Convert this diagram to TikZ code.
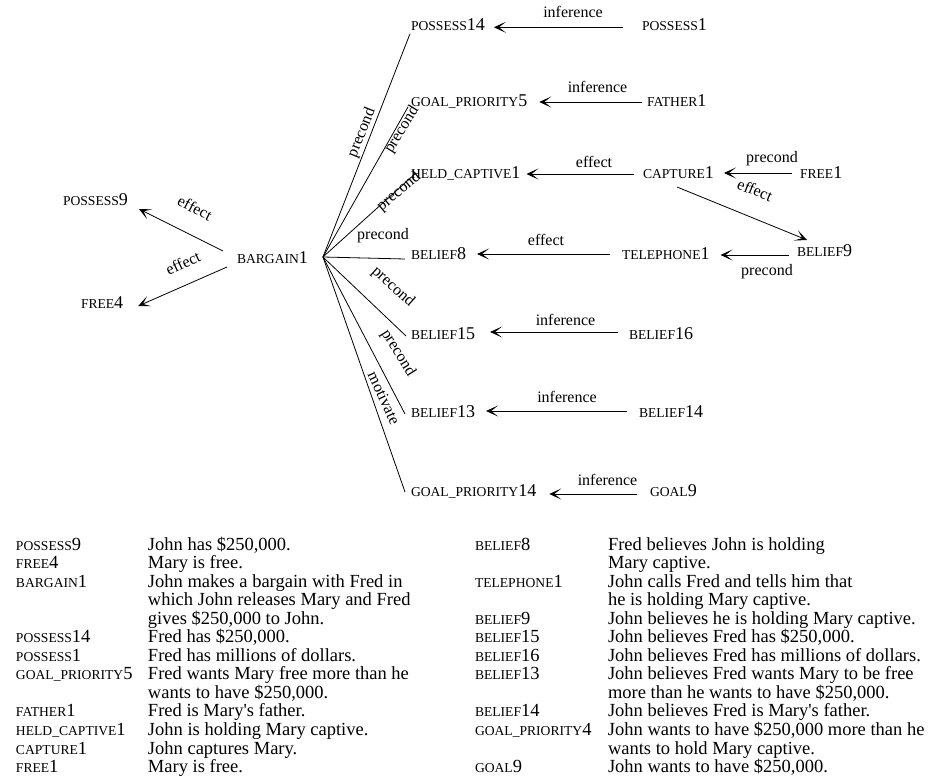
\documentclass[tikz,border=0pt]{standalone}
\usepackage{fontspec}
\setmainfont{Liberation Serif}
\usetikzlibrary{arrows.meta}
\newcommand\sck[1]{{\fontsize{13.6pt}{14pt}\selectfont #1}}
\newcommand\lrow[2]{\hbox{\makebox[132pt][l]{#1}#2}}
\newcommand\rrow[2]{\hbox{\makebox[133pt][l]{#1}#2}}
\begin{document}
\begin{tikzpicture}[x=1pt,y=-1pt,
 every node/.style={inner sep=0pt, outer sep=0pt},
 concept/.style={anchor=base west, font=\fontsize{18pt}{18pt}\selectfont},
 elabel/.style={anchor=base, font=\fontsize{16pt}{16pt}\selectfont},
 rlabel/.style={anchor=center, font=\fontsize{16pt}{16pt}\selectfont},
 link/.style={line width=0.8pt},
 arr/.style={line width=0.8pt, -{Stealth[length=12pt,width=11pt,inset=7pt]}},
 legend/.style={anchor=base west, font=\fontsize{18.5pt}{18.55pt}\selectfont}
]
\useasboundingbox (0,0) rectangle (929,778);

% concept nodes
\node[concept] (p14) at (411,30.7) {\sck{POSSESS}14};
\node[concept] (p1) at (642,30.7) {\sck{POSSESS}1};
\node[concept] (gp5) at (411,107) {\sck{GOAL\_PRIORITY}5};
\node[concept] (father) at (647,107) {\sck{FATHER}1};
\node[concept] (held) at (411,179) {\sck{HELD\_CAPTIVE}1};
\node[concept] (capture) at (643,179) {\sck{CAPTURE}1};
\node[concept] (free1) at (800,179) {\sck{FREE}1};
\node[concept] (b8) at (411,259) {\sck{BELIEF}8};
\node[concept] (tel) at (622,259) {\sck{TELEPHONE}1};
\node[concept] (b9) at (797,257) {\sck{BELIEF}9};
\node[concept] (bargain) at (237,263) {\sck{BARGAIN}1};
\node[concept] (p9) at (63,206) {\sck{POSSESS}9};
\node[concept] (free4) at (81,308) {\sck{FREE}4};
\node[concept] (b15) at (411,339) {\sck{BELIEF}15};
\node[concept] (b16) at (629,339) {\sck{BELIEF}16};
\node[concept] (b13) at (411,417) {\sck{BELIEF}13};
\node[concept] (b14) at (639,417) {\sck{BELIEF}14};
\node[concept] (gp14) at (411,496) {\sck{GOAL\_PRIORITY}14};
\node[concept] (goal9) at (650,496) {\sck{GOAL}9};

% fan from BARGAIN1
\coordinate (fan) at ([xshift=15pt,yshift=6pt]bargain.base east);
\draw[link] (fan) -- ([xshift=-1pt,yshift=-3pt]p14.base west);
\draw[link] (fan) -- ([xshift=-3pt]gp5.base west);
\draw[link] (fan) -- ([xshift=5pt,yshift=6pt]held.base west);
\draw[link] (fan) -- ([xshift=-6pt]b8.base west);
\draw[link] (fan) -- ([xshift=-5pt,yshift=3pt]b15.base west);
\draw[link] (fan) -- ([xshift=-6pt,yshift=3pt]b13.base west);
\draw[link] (fan) -- ([xshift=-6pt,yshift=4pt]gp14.base west);

% effects of BARGAIN1
\draw[arr] ([xshift=-14pt,yshift=12pt]bargain.base west) -- ([xshift=11pt,yshift=-3pt]p9.base east);
\draw[arr] ([xshift=-10pt,yshift=-4pt]bargain.base west) -- ([xshift=15pt,yshift=2pt]free4.base east);

% horizontal arrows
\draw[arr] ([xshift=-19pt,yshift=3.4pt]p1.base west) -- ([xshift=9pt,yshift=3.4pt]p14.base east);
\draw[arr] ([xshift=-5pt,yshift=5pt]father.base west) -- ([xshift=12pt,yshift=5pt]gp5.base east);
\draw[arr] ([xshift=-9pt,yshift=5pt]capture.base west) -- ([xshift=6pt,yshift=5pt]held.base east);
\draw[arr] ([xshift=-8pt,yshift=6pt]free1.base west) -- ([xshift=10pt,yshift=6pt]capture.base east);
\draw[arr] ([xshift=-12pt,yshift=5pt]tel.base west) -- ([xshift=11pt,yshift=5pt]b8.base east);
\draw[arr] ([xshift=-8pt,yshift=2pt]b9.base west) -- ([xshift=11pt,yshift=4pt]tel.base east);
\draw[arr] ([xshift=-11pt,yshift=7pt]b16.base west) -- ([xshift=15pt,yshift=7pt]b15.base east);
\draw[arr] ([xshift=-12pt,yshift=6pt]b14.base west) -- ([xshift=11pt,yshift=6pt]b13.base east);
\draw[arr] ([xshift=-13pt,yshift=2pt]goal9.base west) -- ([xshift=13pt,yshift=2pt]gp14.base east);
\draw[arr] ([xshift=34pt,yshift=-8pt]capture.base west) -- ([xshift=10pt,yshift=17pt]b9.base west);

% edge labels
\node[elabel] (l1) at (573,18) {inference};
\node[elabel] (l2) at (597.5,93) {inference};
\node[elabel] (l3) at (594,168) {effect};
\node[elabel] (l4) at (772,163) {precond};
\node[elabel] (l5) at (546,245) {effect};
\node[elabel] (l6) at (767,276) {precond};
\node[elabel] (l7) at (565.5,325) {inference};
\node[elabel] (l8) at (567,402) {inference};
\node[elabel] (l9) at (607.5,485) {inference};

\node[rlabel, rotate=-22] (r1) at (755,190) {effect};
\node[rlabel, rotate=-27] (r2) at (195,208) {effect};
\node[rlabel, rotate=25] (r3) at (183,263) {effect};
\node[rlabel, rotate=68] (r4) at (362,133) {precond};
\node[rlabel, rotate=58] (r5) at (402,130) {precond};
\node[rlabel, rotate=40] (r6) at (399,192) {precond};
\node[rlabel] (r7) at (383,236) {precond};
\node[rlabel, rotate=-42] (r8) at (393,287) {precond};
\node[rlabel, rotate=-58] (r9) at (398,353) {precond};
\node[rlabel, rotate=-65] (r10) at (384,398) {motivate};

% legend
\node[legend] (legL) at (16,550) {\vtop{%
\lrow{\sck{POSSESS}9}{John has \$250,000.}
\lrow{\sck{FREE}4}{Mary is free.}
\lrow{\sck{BARGAIN}1}{John makes a bargain with Fred in}
\lrow{}{which John releases Mary and Fred}
\lrow{}{gives \$250,000 to John.}
\lrow{\sck{POSSESS}14}{Fred has \$250,000.}
\lrow{\sck{POSSESS}1}{Fred has millions of dollars.}
\lrow{\sck{GOAL\_PRIORITY}5}{Fred wants Mary free more than he}
\lrow{}{wants to have \$250,000.}
\lrow{\sck{FATHER}1}{Fred is Mary\textquotesingle s father.}
\lrow{\sck{HELD\_CAPTIVE}1}{John is holding Mary captive.}
\lrow{\sck{CAPTURE}1}{John captures Mary.}
\lrow{\sck{FREE}1}{Mary is free.}}};

\node[legend] (legR) at (475,550) {\vtop{%
\rrow{\sck{BELIEF}8}{Fred believes John is holding}
\rrow{}{Mary captive.}
\rrow{\sck{TELEPHONE}1}{John calls Fred and tells him that}
\rrow{}{he is holding Mary captive.}
\rrow{\sck{BELIEF}9}{John believes he is holding Mary captive.}
\rrow{\sck{BELIEF}15}{John believes Fred has \$250,000.}
\rrow{\sck{BELIEF}16}{John believes Fred has millions of dollars.}
\rrow{\sck{BELIEF}13}{John believes Fred wants Mary to be free}
\rrow{}{more than he wants to have \$250,000.}
\rrow{\sck{BELIEF}14}{John believes Fred is Mary\textquotesingle s father.}
\rrow{\sck{GOAL\_PRIORITY}4}{John wants to have \$250,000 more than he}
\rrow{}{wants to hold Mary captive.}
\rrow{\sck{GOAL}9}{John wants to have \$250,000.}}};
\end{tikzpicture}
\end{document}
